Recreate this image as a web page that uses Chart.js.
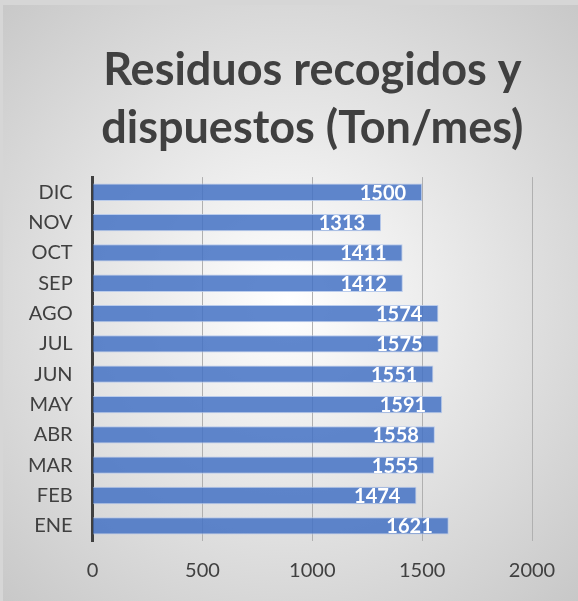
<!DOCTYPE html>
<html>
<head>
<meta charset="utf-8">
<script src="https://cdn.jsdelivr.net/npm/chart.js@4"></script>
<style>
  html, body { margin: 0; padding: 0; background: #d4d4d4; }
  #wrap { width: 578px; height: 601px; position: relative; }
</style>
</head>
<body>
<div id="wrap"><canvas id="chart" width="578" height="601"></canvas></div>
<script>
const months = ["ENE", "FEB", "MAR", "ABR", "MAY", "JUN", "JUL", "AGO", "SEP", "OCT", "NOV", "DIC"];
const tons = [1621, 1474, 1555, 1558, 1591, 1551, 1575, 1574, 1412, 1411, 1313, 1500];
const titleLines = ["Residuos recogidos y", "dispuestos (Ton/mes)"];

// gray-to-white radial backdrop
const backdrop = {
  id: "backdrop",
  beforeDraw(chart) {
    const c = chart.ctx;
    const w = chart.width, h = chart.height;
    c.save();
    c.fillStyle = "#d6d6d6";
    c.fillRect(0, 0, w, h);
    const g = c.createRadialGradient(w / 2, h / 2, 0, w / 2, h / 2, 430);
    g.addColorStop(0, "#ffffff");
    g.addColorStop(1, "#c6c6c6");
    c.fillStyle = g;
    c.fillRect(3, 5, w - 3, h - 5);
    c.restore();
  }
};

// white values at the inside end of each bar
const barValues = {
  id: "barValues",
  afterDatasetsDraw(chart) {
    const c = chart.ctx;
    const meta = chart.getDatasetMeta(0);
    c.save();
    c.font = "bold 20px Lato";
    c.fillStyle = "#ffffff";
    c.textAlign = "right";
    c.textBaseline = "middle";
    meta.data.forEach((bar, i) => {
      c.fillText(String(tons[i]), bar.x - 16, bar.y + 1);
    });
    c.restore();
  }
};

new Chart(document.getElementById("chart"), {
  type: "bar",
  data: {
    labels: months,
    datasets: [{
      data: tons,
      backgroundColor: "rgba(68,114,196,0.85)",
      borderColor: "rgba(180,200,235,0.9)",
      borderWidth: 1,
      barPercentage: 0.57,
      categoryPercentage: 1
    }]
  },
  options: {
    indexAxis: "y",
    responsive: false,
    animation: false,
    layout: { padding: { top: 41, right: 46, bottom: 0, left: 8 } },
    plugins: {
      legend: { display: false },
      tooltip: { enabled: false },
      title: {
        display: true,
        text: titleLines,
        fullSize: false,
        color: "#404040",
        font: { family: "Lato", size: 45, weight: "bold", lineHeight: 1.29 },
        padding: { top: 0, bottom: 20 }
      }
    },
    scales: {
      x: {
        min: 0,
        max: 2000,
        ticks: {
          stepSize: 500,
          color: "#404040",
          font: { family: "Lato", size: 20 },
          padding: 18,
          callback: v => String(v)
        },
        grid: { color: "#b0b0b0", drawTicks: false },
        border: { display: false }
      },
      y: {
        reverse: true,
        ticks: { color: "#404040", font: { family: "Lato", size: 20 }, padding: 20 },
        grid: { display: false, drawTicks: false },
        border: { color: "#404040", width: 3 }
      }
    }
  },
  plugins: [backdrop, barValues]
});
</script>
</body>
</html>
